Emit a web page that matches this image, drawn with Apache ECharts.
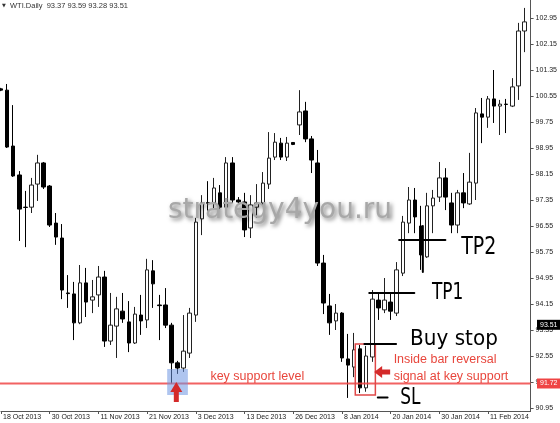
<!DOCTYPE html>
<html>
<head>
<meta charset="utf-8">
<script src="https://cdn.jsdelivr.net/npm/echarts@6/dist/echarts.min.js"></script>
<style>
  html, body { margin: 0; padding: 0; background: #fff; }
  #chart { width: 560px; height: 423px; }
</style>
</head>
<body>
<div id="chart"></div>
<script>
// WTI daily bars, 18 Oct 2013 .. 19 Feb 2014 (last category left empty)
const dates = [
  '18 Oct 2013', '21 Oct 2013', '22 Oct 2013', '23 Oct 2013', '24 Oct 2013', '25 Oct 2013', '28 Oct 2013', '29 Oct 2013',
  '30 Oct 2013', '31 Oct 2013', '1 Nov 2013', '4 Nov 2013', '5 Nov 2013', '6 Nov 2013', '7 Nov 2013', '8 Nov 2013',
  '11 Nov 2013', '12 Nov 2013', '13 Nov 2013', '14 Nov 2013', '15 Nov 2013', '18 Nov 2013', '19 Nov 2013', '20 Nov 2013',
  '21 Nov 2013', '22 Nov 2013', '25 Nov 2013', '26 Nov 2013', '27 Nov 2013', '28 Nov 2013', '29 Nov 2013', '2 Dec 2013',
  '3 Dec 2013', '4 Dec 2013', '5 Dec 2013', '6 Dec 2013', '9 Dec 2013', '10 Dec 2013', '11 Dec 2013', '12 Dec 2013',
  '13 Dec 2013', '16 Dec 2013', '17 Dec 2013', '18 Dec 2013', '19 Dec 2013', '20 Dec 2013', '23 Dec 2013', '24 Dec 2013',
  '26 Dec 2013', '27 Dec 2013', '30 Dec 2013', '31 Dec 2013', '2 Jan 2014', '3 Jan 2014', '6 Jan 2014', '7 Jan 2014',
  '8 Jan 2014', '9 Jan 2014', '10 Jan 2014', '13 Jan 2014', '14 Jan 2014', '15 Jan 2014', '16 Jan 2014', '17 Jan 2014',
  '20 Jan 2014', '21 Jan 2014', '22 Jan 2014', '23 Jan 2014', '24 Jan 2014', '27 Jan 2014', '28 Jan 2014', '29 Jan 2014',
  '30 Jan 2014', '31 Jan 2014', '3 Feb 2014', '4 Feb 2014', '5 Feb 2014', '6 Feb 2014', '7 Feb 2014', '10 Feb 2014',
  '11 Feb 2014', '12 Feb 2014', '13 Feb 2014', '14 Feb 2014', '17 Feb 2014', '18 Feb 2014', '19 Feb 2014', '20 Feb 2014'
];

const opens = [
  100.77, 100.73, 99.01, 98.12, 97.13, 97.13, 97.84, 98.49,
  97.78, 96.64, 96.18, 94.49, 94.46, 93.57, 94.80, 94.27,
  94.43, 94.98, 93.01, 93.47, 93.93, 93.60, 92.95, 93.81,
  93.66, 95.17, 94.12, 94.12, 93.50, 92.34, 92.18, 92.64,
  93.81, 96.77, 97.27, 97.26, 97.57, 97.13, 98.49, 97.35,
  97.29, 96.49, 97.13, 97.26, 97.84, 98.67, 99.10, 98.67,
  99.12, 99.66, 100.09, 99.23, 98.49, 95.41, 94.09, 93.63,
  93.87, 92.46, 92.21, 92.77, 91.57, 92.52, 94.27, 93.97,
  94.21, 93.87, 95.10, 96.64, 97.35, 96.55, 95.60, 97.17,
  97.44, 98.03, 97.26, 96.58, 97.57, 97.23, 97.87, 100.00,
  99.90, 100.46, 100.24, 100.30, 100.24, 100.86, 102.55
];
const closes = [
  100.73, 98.98, 98.09, 97.07, 97.12, 97.81, 98.49, 97.75,
  96.58, 96.21, 94.58, 94.47, 93.57, 94.80, 94.21, 94.37,
  94.98, 93.01, 93.50, 94.00, 93.69, 92.95, 93.84, 93.63,
  95.20, 94.77, 94.10, 93.50, 92.34, 92.18, 92.70, 93.87,
  96.67, 97.26, 97.25, 97.72, 97.13, 98.49, 97.35, 97.29,
  96.43, 97.20, 97.26, 97.87, 98.64, 99.13, 98.67, 99.10,
  99.06, 100.06, 99.23, 98.58, 95.41, 94.18, 93.57, 93.87,
  92.49, 92.27, 92.74, 91.57, 92.55, 94.30, 94.03, 94.27,
  93.93, 95.20, 96.67, 97.35, 96.83, 95.66, 97.17, 97.41,
  98.03, 97.44, 96.58, 97.57, 97.26, 97.90, 100.03, 99.90,
  100.46, 100.24, 100.30, 100.29, 100.83, 102.55, 102.83
];
const lows = [
  100.70, 98.95, 98.06, 96.09, 95.90, 96.95, 97.32, 97.69,
  96.52, 95.97, 94.30, 94.03, 93.04, 93.53, 93.75, 93.87,
  94.06, 92.83, 92.89, 92.49, 93.57, 92.67, 92.92, 93.20,
  93.41, 94.03, 93.04, 93.41, 91.69, 92.00, 92.06, 92.49,
  93.60, 96.27, 96.89, 97.10, 97.07, 96.98, 97.26, 97.20,
  96.21, 96.18, 96.80, 97.17, 97.69, 98.58, 98.58, 98.55,
  99.04, 99.35, 99.13, 98.18, 95.32, 93.84, 93.20, 93.35,
  92.37, 91.26, 91.90, 91.41, 91.45, 92.37, 93.66, 93.87,
  93.66, 93.78, 95.01, 96.33, 96.33, 95.20, 95.57, 96.33,
  97.29, 97.04, 96.33, 96.33, 97.10, 97.20, 97.35, 99.10,
  99.57, 99.72, 99.35, 99.41, 100.21, 100.43, 101.90
];
const highs = [
  100.80, 100.92, 100.27, 98.24, 97.63, 98.03, 98.74, 98.52,
  97.81, 96.95, 96.61, 95.04, 94.83, 95.35, 95.26, 94.89,
  95.32, 95.17, 94.49, 94.37, 94.49, 94.24, 94.06, 94.43,
  95.54, 95.50, 94.43, 94.64, 93.57, 92.40, 93.81, 94.03,
  96.80, 97.50, 97.93, 98.03, 97.81, 98.67, 98.67, 97.44,
  97.57, 97.50, 97.84, 98.21, 99.44, 99.41, 99.26, 99.29,
  99.13, 100.73, 100.37, 99.32, 98.89, 95.66, 94.46, 94.15,
  93.90, 93.23, 93.26, 92.89, 92.86, 94.58, 94.49, 94.95,
  94.49, 95.44, 96.86, 97.75, 97.72, 97.17, 97.57, 97.66,
  98.52, 98.33, 97.57, 97.66, 98.18, 98.80, 100.18, 100.49,
  100.55, 101.35, 100.43, 100.46, 101.10, 102.80, 103.26
];

const yTicks = [90.95, 91.75, 92.55, 93.35, 94.15, 94.95, 95.75, 96.55,
  97.35, 98.15, 98.95, 99.75, 100.55, 101.35, 102.15, 102.95];

// levels drawn on the chart
const supportLevel = 91.72;
const lastPrice = 93.51;
const buyStop = 92.92;
const stopLoss = 91.27;
const tp1 = 94.49;
const tp2 = 96.12;

const chart = echarts.init(document.getElementById('chart'));
const candles = opens.map((o, i) => [o, closes[i], lows[i], highs[i]]);
const everyEighth = (index) => index % 8 === 0 && index < 87;
const baseFont = 'Liberation Sans';

chart.setOption({
  animation: false,
  grid: { left: 0, right: 24, top: 0, bottom: 12 },
  xAxis: {
    type: 'category',
    data: dates,
    boundaryGap: false,
    axisLine: { lineStyle: { color: '#555' } },
    axisTick: { interval: everyEighth, length: 3, lineStyle: { color: '#555' } },
    axisLabel: {
      interval: everyEighth,
      align: 'left',
      margin: 3,
      padding: [0, 0, 0, 2],
      fontSize: 7,
      fontFamily: baseFont,
      color: '#222'
    },
    splitLine: { show: false }
  },
  yAxis: {
    type: 'value',
    position: 'right',
    min: 90.858,
    max: 103.504,
    splitLine: { show: false },
    axisLine: { show: true, lineStyle: { color: '#555' } },
    axisTick: { show: true, length: 3, customValues: yTicks, lineStyle: { color: '#555' } },
    axisLabel: {
      customValues: yTicks,
      formatter: (v) => v.toFixed(2),
      margin: 5,
      fontSize: 7,
      fontFamily: baseFont,
      color: '#222'
    }
  },
  series: [{
    type: 'candlestick',
    data: candles,
    barWidth: 4,
    itemStyle: {
      color: '#fff',
      color0: '#000',
      borderColor: '#222',
      borderColor0: '#000',
      borderWidth: 1
    }
  }]
});

// annotation positions come from the axes
const x0 = chart.convertToPixel({ xAxisIndex: 0 }, 0);
const step = chart.convertToPixel({ xAxisIndex: 0 }, 1) - x0;
const xAt = (i) => x0 + i * step;
const yAt = (v) => chart.convertToPixel({ yAxisIndex: 0 }, v);

const red = '#e8463c';
const pen = (x1, y1, x2, y2) => ({
  type: 'line', z: 20,
  shape: { x1: x1, y1: y1, x2: x2, y2: y2 },
  style: { stroke: '#000', lineWidth: 2, lineCap: 'round' }
});
const hand = (text, x, y, size, sy) => ({
  type: 'text', z: 20, x: x, y: y, scaleY: sy,
  style: { text: text, x: 0, y: 0, fill: '#000', font: 'normal ' + size + 'px "DejaVu Sans"', textVerticalAlign: 'middle' }
});

const ys = Math.round(yAt(supportLevel));
const upX = xAt(28.8);
const upTop = ys - 1;
const tipX = xAt(61.3);
const tipY = ys - 11;

chart.setOption({
  graphic: [
    // header
    { type: 'text', x: 2, y: 6, style: { text: '\u25BC', fill: '#333', fontSize: 5, textVerticalAlign: 'middle', fontFamily: 'DejaVu Sans' } },
    { type: 'text', x: 10, y: 6, style: { text: 'WTI.Daily  93.37 93.59 93.28 93.51', fill: '#333', fontSize: 7.5, fontFamily: baseFont, textVerticalAlign: 'middle' } },
    // watermark
    { type: 'text', x: 280, y: 211, z: 5, style: {
      text: 'strategy4you.ru', fill: '#a8a8a8', font: 'normal 28px "DejaVu Sans"',
      textAlign: 'center', textVerticalAlign: 'middle',
      textShadowColor: 'rgba(0,0,0,0.55)', textShadowBlur: 4, textShadowOffsetX: 2, textShadowOffsetY: 2
    } },
    // key support line
    { type: 'rect', z: 9, shape: { x: 0, y: ys - 0.5, width: xAt(87), height: 2 },
      style: { fill: 'rgba(240,70,70,0.85)' } },
    // key support zone
    { type: 'rect', z: 10, shape: { x: xAt(27.3), y: yAt(92.15), width: xAt(30.7) - xAt(27.3), height: yAt(91.35) - yAt(92.15) },
      style: { fill: 'rgba(110,150,225,0.55)' } },
    { type: 'polygon', z: 11, shape: { points: [
      [upX - 6, upTop + 10], [upX, upTop], [upX + 6, upTop + 10], [upX + 2.5, upTop + 10],
      [upX + 2.5, upTop + 20], [upX - 2.5, upTop + 20], [upX - 2.5, upTop + 10]] },
      style: { fill: '#d42a2a' } },
    { type: 'text', z: 12, x: xAt(34.4), y: ys - 6, style: { text: 'key support level', fill: red, fontSize: 12.5, fontFamily: baseFont, textVerticalAlign: 'middle' } },
    // inside bar box and note
    { type: 'rect', z: 12, shape: { x: xAt(58.2), y: yAt(buyStop), width: xAt(61.5) - xAt(58.2), height: yAt(91.35) - yAt(buyStop) },
      style: { fill: 'none', stroke: '#e04848', lineWidth: 1.5 } },
    { type: 'polygon', z: 12, shape: { points: [
      [tipX, tipY], [tipX + 8, tipY - 6], [tipX + 8, tipY - 2.5], [tipX + 16, tipY - 2.5],
      [tipX + 16, tipY + 2.5], [tipX + 8, tipY + 2.5], [tipX + 8, tipY + 6]] },
      style: { fill: '#d42a2a' } },
    { type: 'text', z: 12, x: xAt(64.5), y: ys - 23, style: { text: 'Inside bar reversal', fill: red, fontSize: 12.5, fontFamily: baseFont, textVerticalAlign: 'middle' } },
    { type: 'text', z: 12, x: xAt(64.5), y: ys - 6, style: { text: 'signal at key support', fill: red, fontSize: 12.5, fontFamily: baseFont, textVerticalAlign: 'middle' } },
    // hand-drawn trade plan
    pen(xAt(59.7), yAt(buyStop), xAt(64.9), yAt(buyStop)),
    hand('Buy stop', xAt(67.2), yAt(buyStop) - 5, 20, 1.1),
    pen(xAt(60.5), yAt(tp1), xAt(67.9), yAt(tp1)),
    hand('TP1', xAt(70.8), yAt(tp1), 17, 1.35),
    pen(xAt(65.4), yAt(tp2), xAt(73), yAt(tp2)),
    pen(xAt(69.3), yAt(tp2) - 14, xAt(69.3), yAt(tp2) + 32),
    hand('TP2', xAt(75.6), yAt(tp2) + 7, 19, 1.35),
    pen(xAt(61.9), yAt(stopLoss), xAt(63.5), yAt(stopLoss)),
    hand('SL', xAt(65.6), yAt(stopLoss), 17, 1.35),
    // price tags on the axis
    { type: 'text', z: 30, x: 537, y: yAt(lastPrice), style: {
      text: lastPrice.toFixed(2), fill: '#fff', backgroundColor: '#000', padding: [2, 4, 1, 3],
      fontSize: 7, fontFamily: baseFont, textVerticalAlign: 'middle' } },
    { type: 'text', z: 30, x: 537, y: ys + 0.5, style: {
      text: supportLevel.toFixed(2), fill: '#fff', backgroundColor: '#ef4444', padding: [2, 4, 1, 3],
      fontSize: 7, fontFamily: baseFont, textVerticalAlign: 'middle' } }
  ]
});
</script>
</body>
</html>
